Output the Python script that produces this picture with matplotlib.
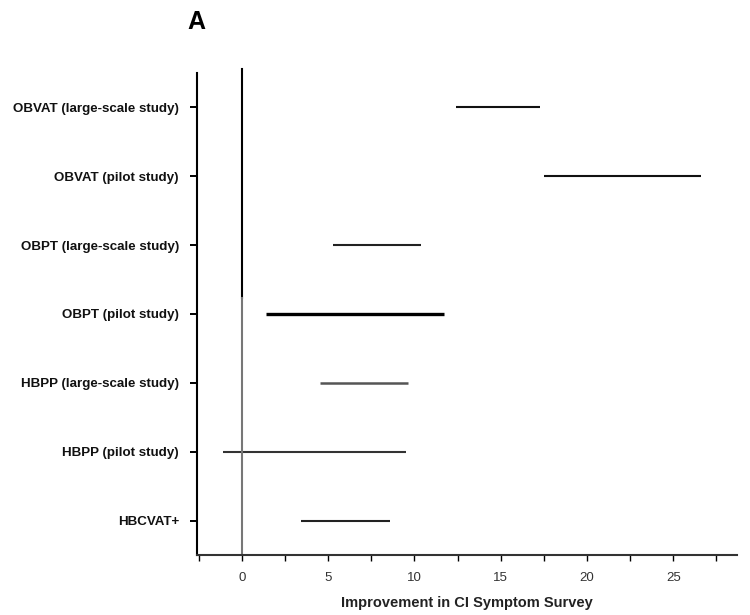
import matplotlib
matplotlib.use("Agg")
import matplotlib.pyplot as plt
import numpy as np

plt.rcParams['font.family'] = ['Liberation Sans', 'DejaVu Sans']

# Treatment groups, top to bottom
labels = ["OBVAT (large-scale study)",
          "OBVAT (pilot study)",
          "OBPT (large-scale study)",
          "OBPT (pilot study)",
          "HBPP (large-scale study)",
          "HBPP (pilot study)",
          "HBCVAT+"]
ci_low = [12.4, 17.5, 5.3, 1.4, 4.5, -1.1, 3.4]
ci_high = [17.3, 26.6, 10.4, 11.7, 9.6, 9.5, 8.6]
line_colors = ["#111111", "#111111", "#222222", "#000000", "#555555", "#333333", "#222222"]
line_widths = [1.5, 1.5, 1.5, 2.4, 1.8, 1.5, 1.5]

major_ticks = [0, 5, 10, 15, 20, 25]
minor_ticks = [-2.5, 2.5, 7.5, 12.5, 17.5, 22.5, 27.5]

fig = plt.figure(figsize=(7.5, 6.15), dpi=100)
ax = fig.add_axes([0.2627, 0.0976, 0.72, 0.7837])

n = len(labels)
ypos = np.arange(n)[::-1]

for y, lo, hi, c, lw in zip(ypos, ci_low, ci_high, line_colors, line_widths):
    ax.plot([lo, hi], [y, y], color=c, lw=lw, solid_capstyle="butt")

# zero reference line: dark on top, grey lower down
ax.axvline(0, ymin=0.533, ymax=1.008, color="black", lw=1.5, clip_on=False)
ax.axvline(0, ymin=0.0, ymax=0.533, color="#777777", lw=1.5)

ax.set_xlim(-2.6, 28.7)
ax.set_ylim(-0.5, 6.5)

ax.set_yticks(ypos)
ax.set_yticklabels(labels, fontsize=9.6, fontweight="bold", color="#111111")
ax.set_xticks(major_ticks)
ax.set_xticklabels([str(t) for t in major_ticks], fontsize=9.5, color="#333333")
ax.set_xticks(minor_ticks, minor=True)

ax.tick_params(axis="y", direction="out", length=5, width=1.4, pad=8)
ax.tick_params(axis="x", which="major", direction="out", length=4, width=1.0, pad=8)
ax.tick_params(axis="x", which="minor", direction="out", length=4, width=1.0)

for side in ["top", "right"]:
    ax.spines[side].set_visible(False)
ax.spines["left"].set_linewidth(1.5)
ax.spines["bottom"].set_linewidth(1.5)
ax.spines["bottom"].set_color("#333333")

ax.set_xlabel("Improvement in CI Symptom Survey", fontsize=10.5, fontweight="bold",
              color="#222222", labelpad=9)

fig.text(0.25, 0.965, "A", fontsize=18, fontweight="bold", ha="left", va="center")

fig.savefig("out.png", dpi=100)
